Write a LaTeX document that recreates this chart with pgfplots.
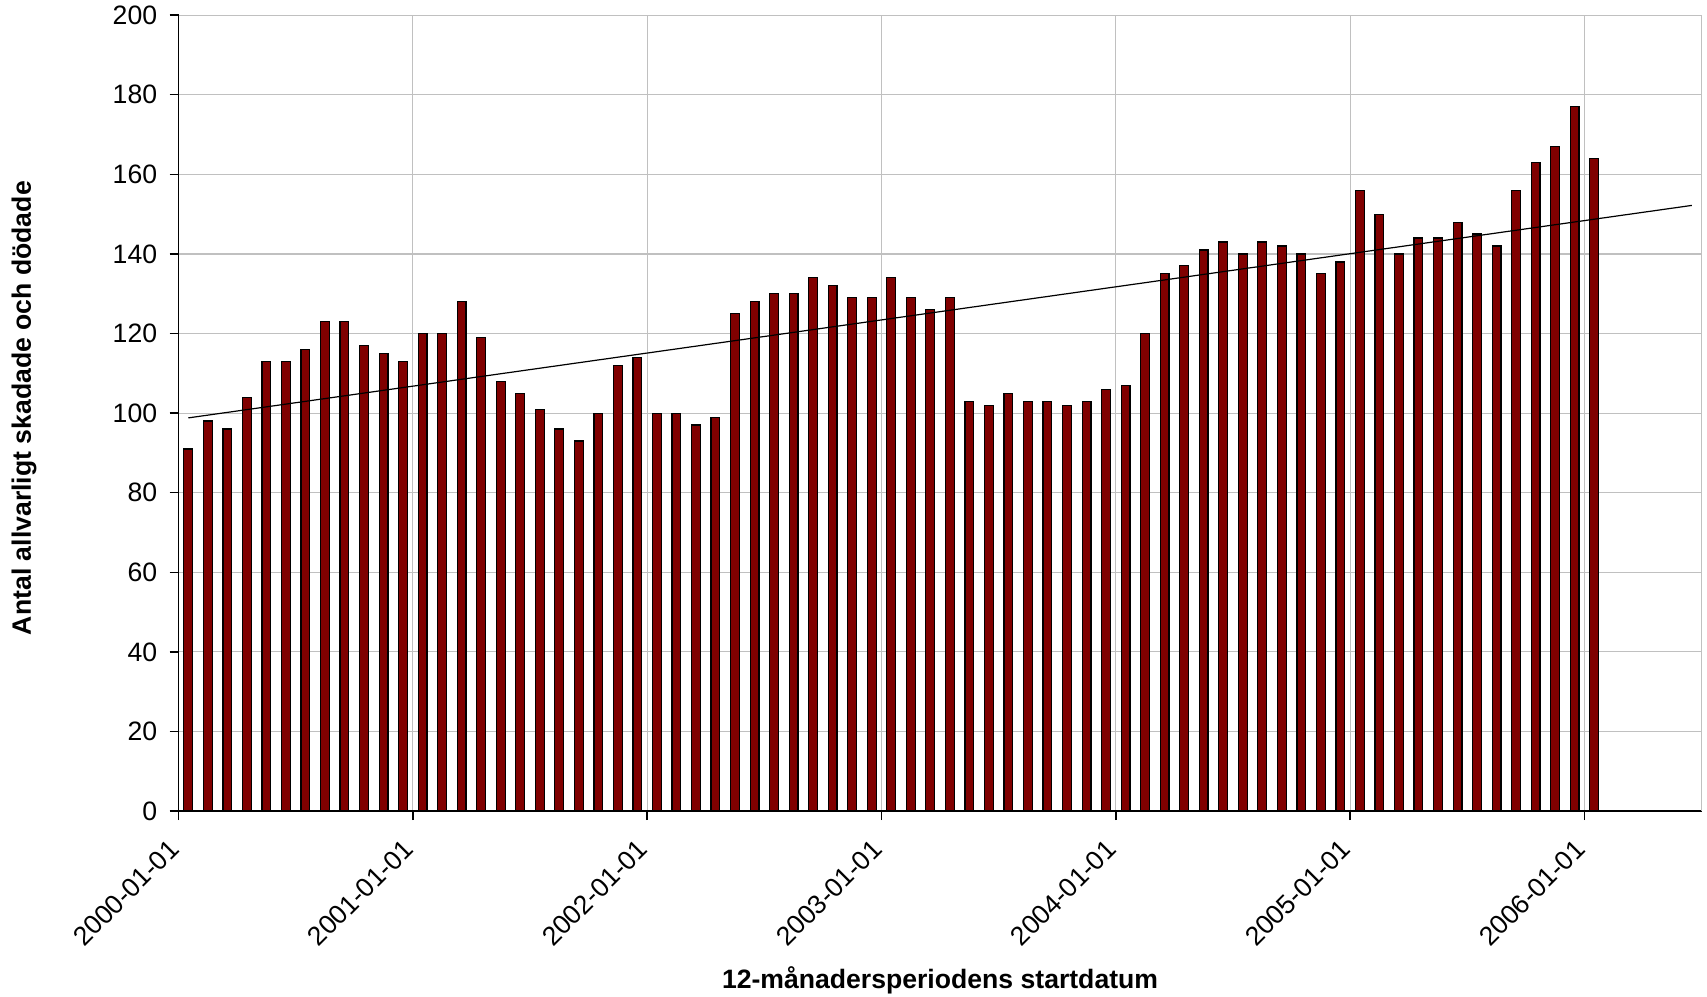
\documentclass[border=0pt]{standalone}
\usepackage{fontspec}
\setmainfont{Liberation Sans}
\usepackage{pgfplots}
\usepackage{pgfplotstable}
\pgfplotsset{compat=1.18}
\definecolor{barred}{HTML}{800000}
\definecolor{gridgray}{HTML}{C0C0C0}

\pgfplotstableread{
m v
0.5 91
1.5 98
2.5 96
3.5 104
4.5 113
5.5 113
6.5 116
7.5 123
8.5 123
9.5 117
10.5 115
11.5 113
12.5 120
13.5 120
14.5 128
15.5 119
16.5 108
17.5 105
18.5 101
19.5 96
20.5 93
21.5 100
22.5 112
23.5 114
24.5 100
25.5 100
26.5 97
27.5 99
28.5 125
29.5 128
30.5 130
31.5 130
32.5 134
33.5 132
34.5 129
35.5 129
36.5 134
37.5 129
38.5 126
39.5 129
40.5 103
41.5 102
42.5 105
43.5 103
44.5 103
45.5 102
46.5 103
47.5 106
48.5 107
49.5 120
50.5 135
51.5 137
52.5 141
53.5 143
54.5 140
55.5 143
56.5 142
57.5 140
58.5 135
59.5 138
60.5 156
61.5 150
62.5 140
63.5 144
64.5 144
65.5 148
66.5 145
67.5 142
68.5 156
69.5 163
70.5 167
71.5 177
72.5 164
}\data

\pgfplotstableread{
m v
0.5 98.8
77.5 152.2
}\trend

\begin{document}
\begin{tikzpicture}
\begin{axis}[
  at={(0,0)}, anchor=south west,
  scale only axis, width=761.5pt, height=397.9pt,
  xmin=0, xmax=78, ymin=0, ymax=200,
  axis lines=left, axis line style={-, line width=0.7pt, black},
  xtick={0,12,24,36,48,60,72},
  xticklabels={2000-01-01,2001-01-01,2002-01-01,2003-01-01,2004-01-01,2005-01-01,2006-01-01},
  extra x ticks={78}, extra x tick labels={}, extra x tick style={major tick length=0pt},
  ytick={0,20,...,200},
  grid=major, major grid style={gridgray, line width=0.6pt},
  tick align=outside, major tick length=4.5pt,
  tick style={black, line width=0.7pt},
  font=\fontsize{13.3}{16}\selectfont,
  /pgf/number format/assume math mode=true,
  xticklabel style={xshift=-5.5pt, yshift=-8.7pt, rotate=45, anchor=north east, inner sep=0pt},
  yticklabel style={anchor=east, inner sep=0pt, xshift=-6pt},
  xlabel={\bfseries 12-månadersperiodens startdatum},
  xlabel style={at={(axis description cs:0.5,-0.2124)}, anchor=center},
  ylabel={\bfseries Antal allvarligt skadade och dödade},
  ylabel style={at={(axis description cs:-0.1014,0.5063)}, rotate=0, anchor=center},
  clip=false,
]
\addplot[ybar, bar width=4.4pt, fill=barred, draw=black, line width=0.6pt] table[x=m, y=v] {\data};
\addplot[black, line width=0.6pt] table[x=m, y=v] {\trend};
\end{axis}
\pgfresetboundingbox
\path[use as bounding box] (-89.25pt,-92.5pt) rectangle (764.2pt,405.5pt);
\end{tikzpicture}
\end{document}
